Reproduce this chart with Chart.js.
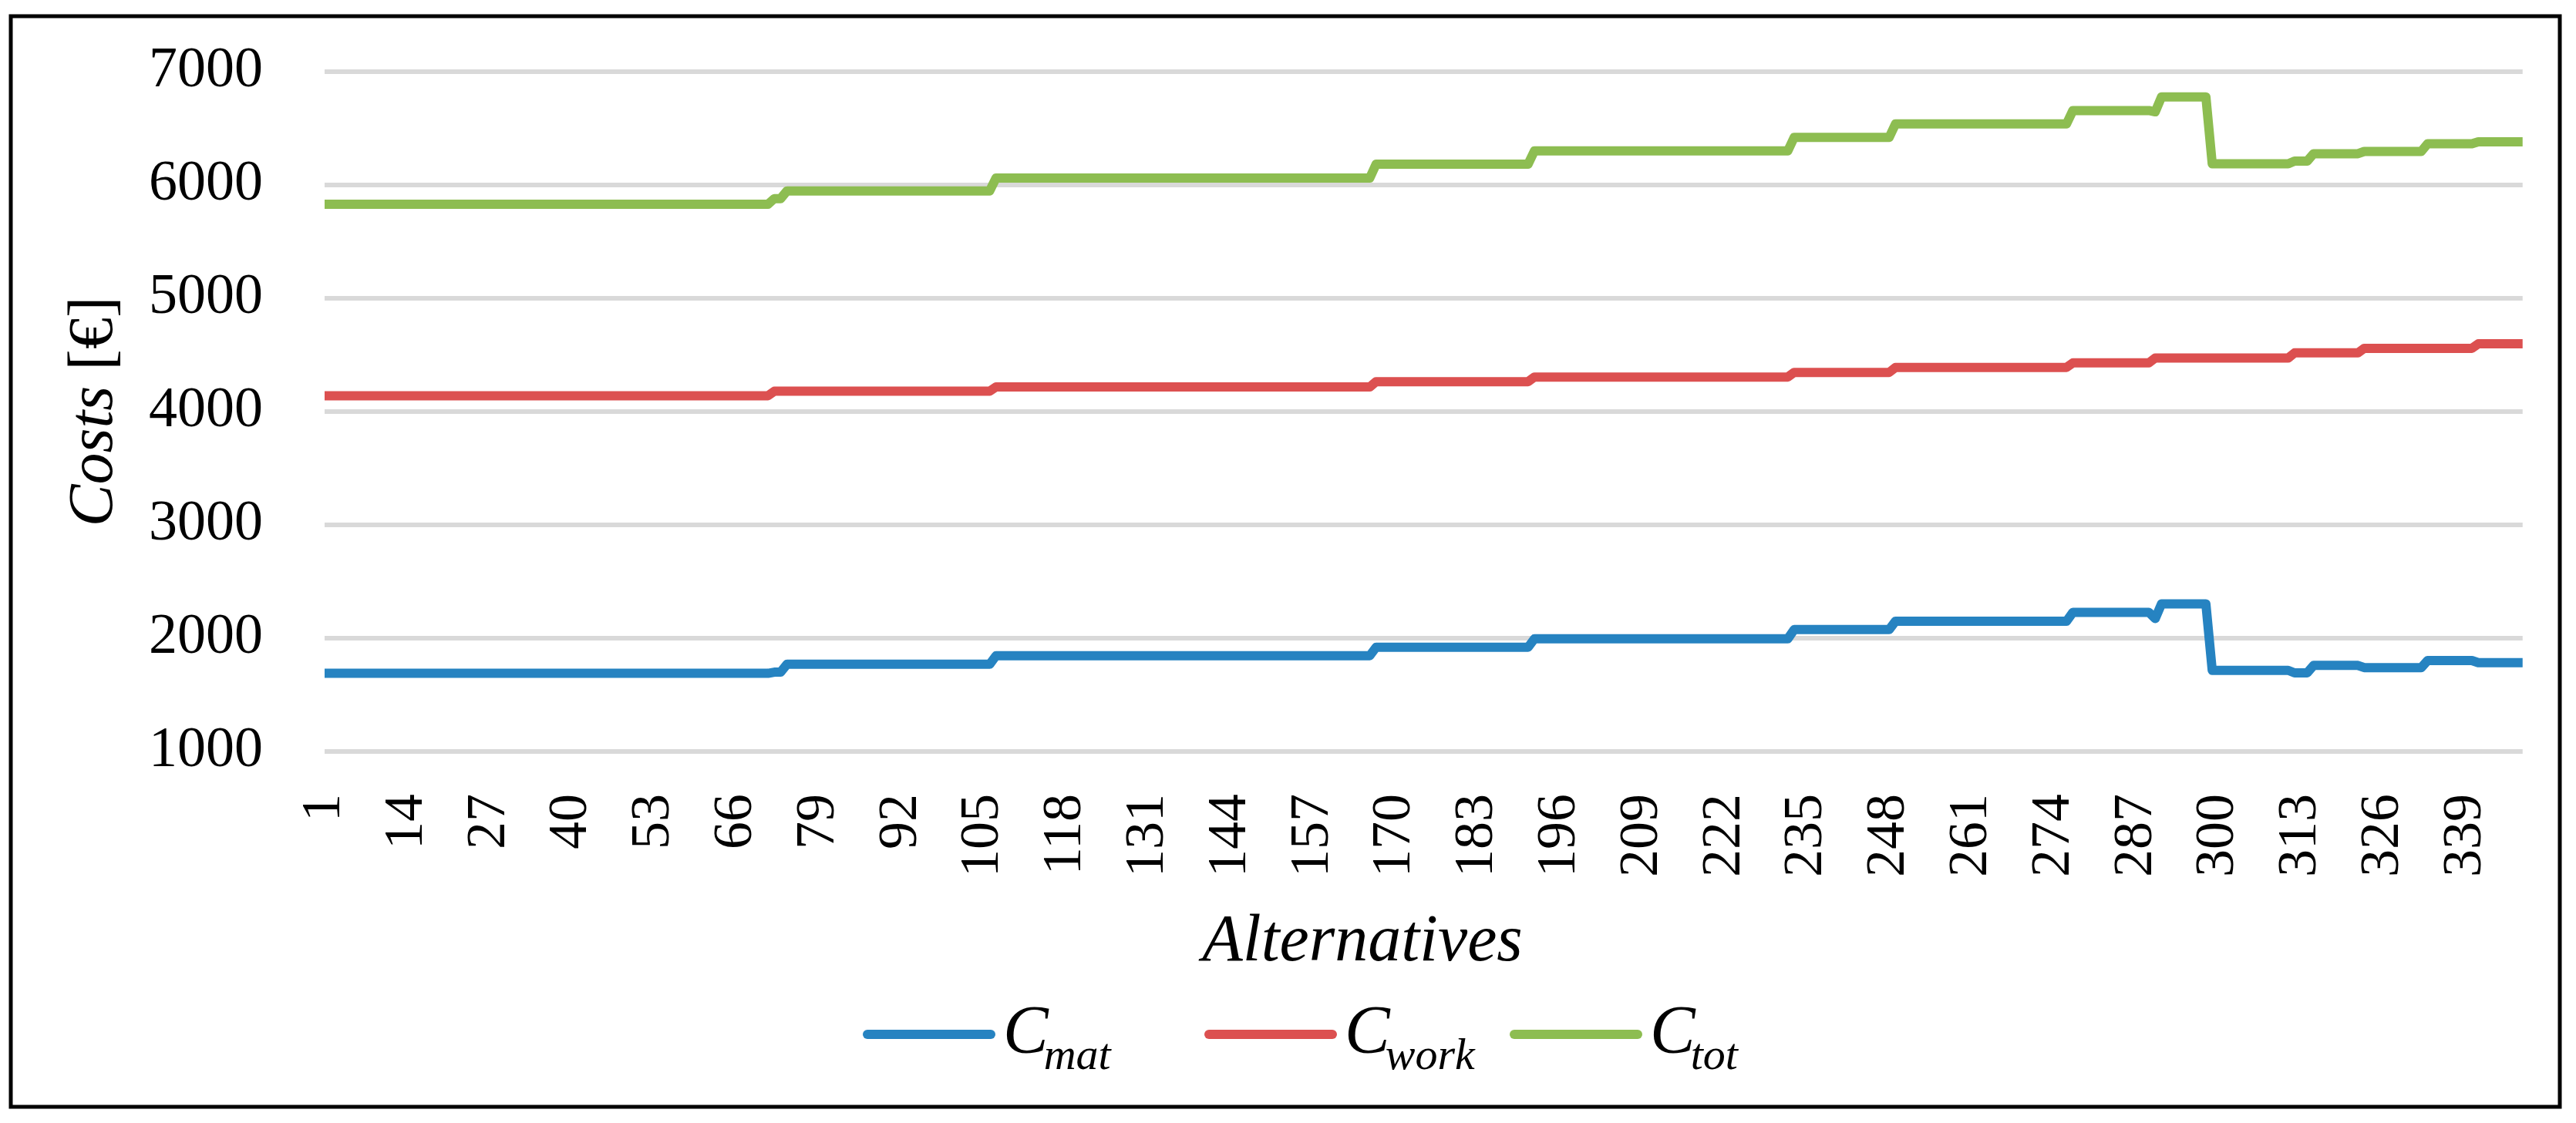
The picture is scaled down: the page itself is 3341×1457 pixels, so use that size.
<html>
<head>
<style>
    html, body { margin: 0; padding: 0; background: #fff; }
    #wrap { width: 3341px; height: 1457px; }
</style>
</head>
<body>
    <div id="wrap">
        <canvas id="costChart"></canvas>
    </div>

    <script src="https://cdn.jsdelivr.net/npm/chart.js@4.4.0/dist/chart.umd.min.js"></script>
    <script>
        // corners of the stepped curves (alternative no. -> cost in EUR)
        const altX = [1, 71, 72, 73, 74, 106, 107, 166, 167, 191, 192, 232, 233, 248, 249, 276, 277,
                      289, 290, 291, 298, 299, 311, 312, 314, 315, 322, 323, 332, 333, 340, 341, 348];
        const costMat = [1690, 1690, 1700, 1700, 1770, 1770, 1845, 1845, 1920, 1920, 1995, 1995, 2076, 2076, 2150, 2150, 2228,
                         2228, 2173, 2303, 2303, 1716, 1716, 1694, 1694, 1760, 1760, 1740, 1740, 1803, 1803, 1784, 1784];
        const costWork = [4140, 4140, 4180, 4180, 4180, 4180, 4217, 4217, 4264, 4264, 4305, 4305, 4346, 4346, 4390, 4390, 4430,
                          4430, 4473, 4473, 4473, 4473, 4473, 4518, 4518, 4518, 4518, 4558, 4558, 4558, 4558, 4598, 4598];
        const costTot = [5830, 5830, 5880, 5880, 5948, 5948, 6062, 6062, 6184, 6184, 6301, 6301, 6420, 6420, 6539, 6539, 6657,
                         6657, 6646, 6778, 6778, 6187, 6187, 6211, 6211, 6276, 6276, 6296, 6296, 6364, 6364, 6381, 6381];
        const xTickValues = [1, 14, 27, 40, 53, 66, 79, 92, 105, 118, 131, 144, 157, 170, 183, 196,
                             209, 222, 235, 248, 261, 274, 287, 300, 313, 326, 339];
        const seriesNames = [['C', 'mat'], ['C', 'work'], ['C', 'tot']];
        const seriesColors = ['#2683c1', '#dc5050', '#8dbd51'];

        const serif = "'Liberation Serif', 'Times New Roman', serif";

        const toPoints = (ys) => altX.map((x, i) => ({x: x, y: ys[i]}));

        // frame, axis titles and the legend (subscripts need hand drawing)
        const decorPlugin = {
            id: 'decor',
            beforeDraw: (chart) => {
                const ctx = chart.ctx;
                ctx.save();
                ctx.fillStyle = '#fff';
                ctx.fillRect(0, 0, chart.width, chart.height);
                ctx.restore();
            },
            afterDraw: (chart) => {
                const ctx = chart.ctx;
                const area = chart.chartArea;
                ctx.save();
                ctx.strokeStyle = '#000';
                ctx.lineWidth = 5;
                ctx.strokeRect(14, 21, 3306, 1415);

                // y title
                ctx.fillStyle = '#000';
                ctx.textBaseline = 'alphabetic';
                ctx.textAlign = 'left';
                ctx.save();
                ctx.translate(145, (area.top + area.bottom) / 2);
                ctx.rotate(-Math.PI / 2);
                ctx.font = 'italic 82px ' + serif;
                const w1 = ctx.measureText('Costs').width;
                ctx.font = '82px ' + serif;
                const w2 = ctx.measureText(' [€]').width;
                let x0 = -(w1 + w2) / 2;
                ctx.font = 'italic 82px ' + serif;
                ctx.fillText('Costs', x0, 0);
                ctx.font = '82px ' + serif;
                ctx.fillText(' [€]', x0 + w1, 0);
                ctx.restore();

                // x title
                ctx.font = 'italic 86px ' + serif;
                ctx.textAlign = 'center';
                ctx.fillText('Alternatives', 1767, 1246);

                // legend
                const legendX = [1119, 1562, 1958];
                ctx.textAlign = 'left';
                chart.data.datasets.forEach((ds, i) => {
                    const lx = legendX[i];
                    ctx.strokeStyle = ds.borderColor;
                    ctx.lineWidth = 12;
                    ctx.lineCap = 'round';
                    ctx.beginPath();
                    ctx.moveTo(lx + 6, 1342);
                    ctx.lineTo(lx + 166, 1342);
                    ctx.stroke();
                    ctx.font = 'italic 88px ' + serif;
                    ctx.fillText(seriesNames[i][0], lx + 182, 1365);
                    const cw = ctx.measureText(seriesNames[i][0]).width;
                    ctx.font = 'italic 58px ' + serif;
                    ctx.fillText(seriesNames[i][1], lx + 182 + cw - 6, 1387);
                });
                ctx.restore();
            }
        };

        const data = {
            datasets: [costMat, costWork, costTot].map((ys, i) => ({
                label: seriesNames[i].join(''),
                data: toPoints(ys),
                borderColor: seriesColors[i],
                backgroundColor: seriesColors[i],
                borderWidth: 12,
                borderCapStyle: 'round',
                borderJoinStyle: 'round',
                pointRadius: 0,
                tension: 0,
                fill: false
            }))
        };

        const config = {
            type: 'line',
            data: data,
            options: {
                responsive: true,
                maintainAspectRatio: false,
                devicePixelRatio: 1,
                animation: false,
                layout: {
                    padding: {left: 0, right: 69, top: 93, bottom: 312}
                },
                plugins: {
                    legend: {display: false},
                    tooltip: {enabled: false}
                },
                scales: {
                    x: {
                        type: 'linear',
                        min: 1,
                        max: 348,
                        grid: {display: false, drawTicks: false},
                        border: {display: false},
                        afterBuildTicks: (scale) => {
                            scale.ticks = xTickValues.map(v => ({value: v}));
                        },
                        afterFit: (scale) => { scale.height = 170; },
                        ticks: {
                            autoSkip: false,
                            minRotation: 90,
                            maxRotation: 90,
                            padding: 55,
                            color: '#000',
                            font: {family: serif, size: 72},
                            callback: (v) => String(v)
                        }
                    },
                    y: {
                        min: 1000,
                        max: 7000,
                        // invisible tick marks keep the labels away from the plot
                        grid: {color: '#d9d9d9', lineWidth: 6, drawTicks: true, tickLength: 78, tickColor: 'rgba(0,0,0,0)'},
                        border: {display: false},
                        afterFit: (scale) => { scale.width = 421; },
                        ticks: {
                            stepSize: 1000,
                            padding: 2,
                            color: '#000',
                            font: {family: serif, size: 74},
                            callback: (v) => String(v)
                        }
                    }
                }
            },
            plugins: [decorPlugin]
        };

        var ctx = document.getElementById('costChart').getContext('2d');
        var costChart = new Chart(ctx, config);
    </script>
</body>
</html>
